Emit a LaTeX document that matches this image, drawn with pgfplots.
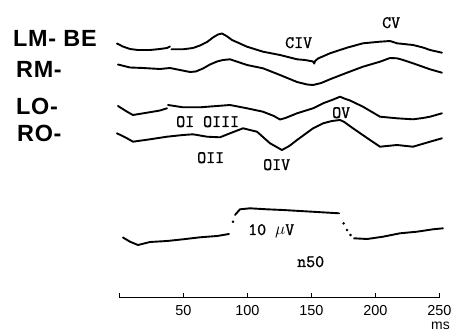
\documentclass[border=0pt]{standalone}
\usepackage{pgfplots}
\pgfplotsset{compat=1.18}
\usepackage{fontspec}
\setmainfont{Liberation Sans}
\newfontfamily\labfont[LetterSpace=3]{Liberation Sans}
\newfontfamily\typew[FakeBold=1.2]{Latin Modern Mono}
\begin{document}
\begin{tikzpicture}
\useasboundingbox (0bp,0bp) rectangle (462bp,333bp);
\begin{axis}[at={(0bp,0bp)}, anchor=south west, scale only axis,
  width=462bp, height=333bp, xmin=-92.97, xmax=267.97, ymin=0, ymax=333,
  y dir=reverse, hide axis, unbounded coords=jump, clip=false,
  trace/.style={black, line width=1.9bp, line cap=round, line join=round, mark=none}]
% LM-BE
\addplot[trace] coordinates {(-1.6,43.5) (3,46.5) (8.6,49) (14.8,50) (24.2,50) (32,49) (37.5,48) (39.8,46.5) (40.2,nan)
 (41,49.3) (50,49.3) (57.8,48) (63.3,45.5) (68.8,42) (73.4,37.5) (77.3,34.5) (80.5,33.5) (84,36) (88.3,40)
 (100,46.7) (112.5,51.7) (125.8,55) (139.1,59.3) (145.3,60) (151.6,61.5) (152.5,63.5) (153.2,61) (155.5,58.5) (164.8,53.3)
 (178.1,47.7) (190.6,43.3) (203.9,41.7) (211.7,41) (217.2,43.3) (229.7,45) (237.5,47.5) (243,50) (252.3,52.7)};
% RM
\addplot[trace] coordinates {(-0.8,64.5) (8.6,67.5) (18.8,68) (32,69) (39.8,68) (47.7,70) (55.5,72) (60,71.5) (65.6,68.5)
 (71.1,64.5) (76.6,61.5) (81.3,60) (86.7,59.3) (100,65) (112.5,68.3) (125.8,75) (139.1,82) (147,84.5) (151.6,85)
 (158,83) (164.8,79.3) (178.1,72.7) (190.6,66.7) (203.9,61.7) (211.7,58) (217.2,58.3) (222,60) (229.7,63.3) (243,69.3) (252.3,72.7)};
% LO
\addplot[trace] coordinates {(-0.8,106) (6.3,111.7) (10.9,115) (21.9,112.7) (32,110.5) (37.5,108.3) (37.9,nan)
 (38.3,105) (50,107.3) (63.3,107.3) (76.6,106) (86.7,105) (100,108.3) (112.5,111.7) (121,116) (125.8,119.5)
 (130,118) (139.1,113.3) (151.6,108.3) (159.4,103.3) (166.4,100) (172.7,96.7) (176,98.5) (180.5,100.5)
 (190.6,106.7) (203.9,116.7) (217.2,118.3) (229.7,119.3) (237.5,118) (243,116.7) (252.3,113.3)};
% RO
\addplot[trace] coordinates {(-1.6,133.3) (6.3,138.3) (10.9,141.7) (24.2,139.3) (37.5,136.7) (50,135) (57.8,134.3)
 (68.8,136.7) (78.9,137.3) (86.7,133.3) (96.9,128.3) (107.8,131.7) (118,143.3) (127.3,150) (133,146) (139.1,140)
 (151.6,128.3) (159.4,123.3) (166.4,121) (172.7,120) (176,122) (182.8,128.3) (196.1,140) (203.9,146.7)
 (217.2,145) (229.7,146.7) (243,141.7) (252.3,138.3)};
% n50 calibration trace
\addplot[trace] coordinates {(3.1,237.5) (8.6,241.7) (14.8,245) (24.2,242) (37.5,241) (50,239.3) (63.3,237.3) (76.6,236) (85.9,234) (86.5,nan)
 (90.6,215) (94.5,209.3) (102.3,208.3) (115.6,209.3) (128.1,210) (141.4,211) (154.7,212) (171.9,213.3) (172.5,nan)
 (183.6,238.3) (193.8,239) (206.3,236.7) (219.5,233.3) (232.8,231.7) (245.3,229.3) (253.1,228.3)};
\addplot[only marks, mark=*, mark size=1.1bp, black] coordinates {(89.1,221.7) (175.5,223.3) (178.1,230) (180.8,235)};
\end{axis}
\begin{axis}[at={(119.3bp,35.3bp)}, anchor=south west, scale only axis,
  width=320bp, height=10bp, xmin=0, xmax=250, ymin=0, ymax=1,
  axis x line*=bottom, axis y line=none,
  xtick={0,50,100,150,200,250}, xticklabels={,50,100,150,200,250},
  xtick align=inside, major tick length=5bp,
  every outer x axis line/.append style={line width=1.1bp},
  x tick style={line width=1.1bp, black},
  /pgf/number format/assume math mode=true,
  xticklabel style={font=\fontsize{14.5}{14.5}\selectfont, inner sep=0pt, anchor=north, yshift=-7.5bp}]
\end{axis}
\begin{scope}[every node/.style={anchor=base west, inner sep=0pt, font=\labfont\bfseries\fontsize{23.5}{24}\selectfont}]
\node at (13bp,286bp) {LM- BE};
\node at (16bp,255bp) {RM-};
\node at (16bp,218bp) {LO-};
\node at (17bp,191bp) {RO-};
\end{scope}
\begin{scope}[every node/.style={anchor=base west, inner sep=0pt, font=\typew\fontsize{17.5}{18}\selectfont}]
\node at (382bp,305bp) {CV};
\node at (285bp,285bp) {CIV};
\node at (176bp,206bp) {OI OIII};
\node at (332bp,215bp) {OV};
\node at (197bp,170bp) {OII};
\node at (263bp,163bp) {OIV};
\node at (248bp,98bp) {10 $\mu$V};
\node at (297bp,66bp) {n50};
\end{scope}
\node[anchor=base west, inner sep=0pt, font=\fontsize{14}{14}\selectfont] at (431bp,4bp) {ms};
\end{tikzpicture}
\end{document}
